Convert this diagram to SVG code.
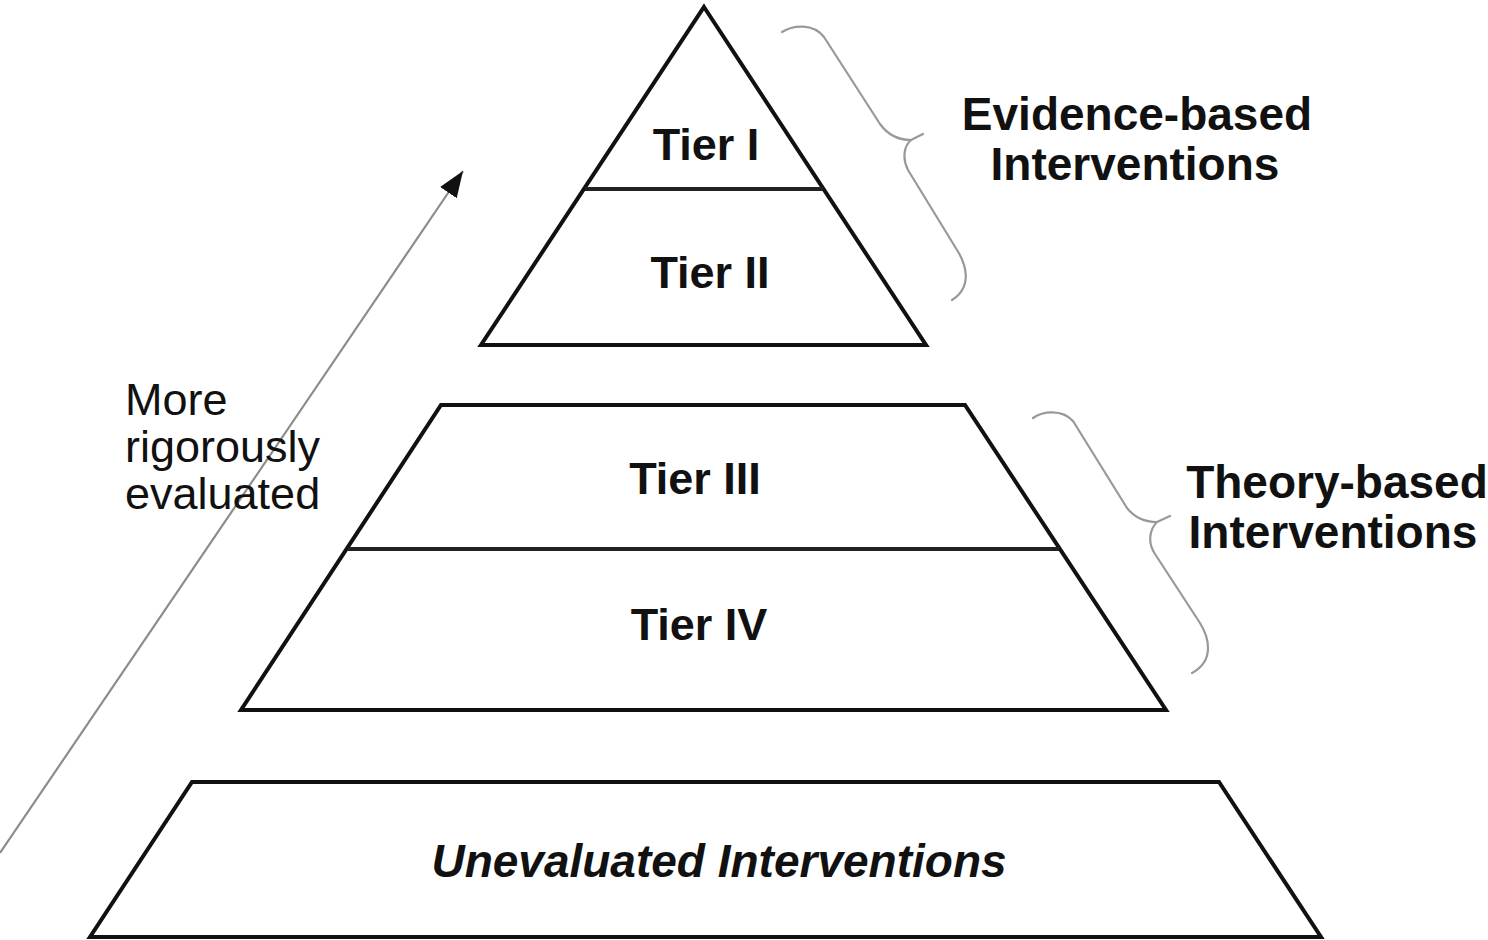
<svg xmlns="http://www.w3.org/2000/svg" width="1488" height="940" viewBox="0 0 1488 940">
  <style>
    .shape { fill: #ffffff; stroke: #111111; stroke-width: 4; stroke-linejoin: miter; }
    .div { stroke: #222222; stroke-width: 4; fill: none; }
    .brace { fill: none; stroke: #999999; stroke-width: 2.2; stroke-linecap: round; stroke-linejoin: round; }
    .tier { font-family: "Liberation Sans", Arial, sans-serif; font-weight: bold; font-size: 45px; fill: #111111; text-anchor: middle; }
    .side { font-family: "Liberation Sans", Arial, sans-serif; font-weight: bold; font-size: 46px; fill: #111111; text-anchor: middle; }
    .note { font-family: "Liberation Sans", Arial, sans-serif; font-size: 45px; fill: #111111; }
    .uneval { font-family: "Liberation Sans", Arial, sans-serif; font-weight: bold; font-style: italic; font-size: 46px; fill: #111111; text-anchor: middle; }
  </style>
  <defs>
    <marker id="arrowhead" markerUnits="userSpaceOnUse" markerWidth="30" markerHeight="24" refX="26" refY="10" orient="auto">
      <path d="M0,0 L26,10 L0,20 Z" fill="#111111"/>
    </marker>
  </defs>
  <rect width="1488" height="940" fill="#ffffff"/>

  <g id="connectors">
    <line x1="0" y1="853" x2="463" y2="171" stroke="#8c8c8c" stroke-width="2.2" marker-end="url(#arrowhead)"/>
    <path class="brace" d="M782,32 C793,25 813,23 824,37 L880,124 C888,135 899,140 911,140 L923,134 M911,140 C904,146 902,158 908,170 L957,250 C966,264 973,287 952,300"/>
    <path class="brace" d="M1033,418 C1043,411 1062,409 1073,421 L1127,508 C1135,518 1145,522 1157,522 L1170,516 M1157,522 C1150,529 1147,542 1155,554 L1200,623 C1208,636 1216,660 1192,673"/>
  </g>

  <g id="node-top">
    <polygon class="shape" points="704,7 926,345 481,345"/>
    <line class="div" x1="585" y1="189" x2="823" y2="189"/>
    <text class="tier" x="706" y="160">Tier I</text>
    <text class="tier" x="710" y="288">Tier II</text>
  </g>

  <g id="node-middle">
    <polygon class="shape" points="441,405 965,405 1166,710 241,710"/>
    <line class="div" x1="348" y1="549" x2="1059" y2="549"/>
    <text class="tier" x="695" y="494">Tier III</text>
    <text class="tier" x="699" y="640">Tier IV</text>
  </g>

  <g id="node-bottom">
    <polygon class="shape" points="192,782 1219,782 1321,937 90,937"/>
    <text class="uneval" x="719" y="877">Unevaluated Interventions</text>
  </g>

  <g id="label-evidence">
    <text class="side" x="1137" y="130">Evidence-based</text>
    <text class="side" x="1135" y="180">Interventions</text>
  </g>

  <g id="label-theory">
    <text class="side" x="1337" y="498">Theory-based</text>
    <text class="side" x="1333" y="548">Interventions</text>
  </g>

  <g id="label-rigor">
    <text class="note" x="125" y="415">More</text>
    <text class="note" x="125" y="462">rigorously</text>
    <text class="note" x="125" y="509">evaluated</text>
  </g>
</svg>
